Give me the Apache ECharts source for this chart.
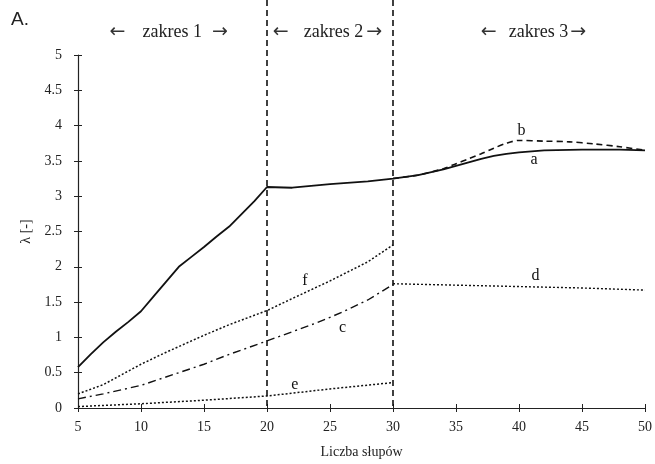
<!DOCTYPE html>
<html>
<head>
<meta charset="utf-8">
<script src="https://cdn.jsdelivr.net/npm/echarts@6/dist/echarts.min.js"></script>
<style>
html,body{margin:0;padding:0;background:#fff;}
#main{width:655px;height:464px;}
</style>
</head>
<body>
<div id="main"></div>
<script>
// ---- data ----
var xTicks = [5, 10, 15, 20, 25, 30, 35, 40, 45, 50];
var yTicks = [0, 0.5, 1, 1.5, 2, 2.5, 3, 3.5, 4, 4.5, 5];

var aX = [5, 6, 7, 8, 9, 10, 11, 12, 13, 14, 15, 16, 17, 18, 19, 20, 22, 25, 28, 30, 32, 34, 35, 36, 37, 38, 39, 40, 42, 45, 48, 50];
var aY = [0.58, 0.76, 0.93, 1.08, 1.22, 1.37, 1.58, 1.79, 2.0, 2.14, 2.28, 2.43, 2.57, 2.75, 2.93, 3.13, 3.12, 3.17, 3.21, 3.25, 3.3, 3.38, 3.43, 3.48, 3.53, 3.57, 3.6, 3.62, 3.65, 3.66, 3.66, 3.65];

var bX = [30, 32, 34, 35, 36, 37, 38, 39, 40, 42, 44, 46, 48, 50];
var bY = [3.25, 3.3, 3.39, 3.46, 3.53, 3.6, 3.68, 3.75, 3.79, 3.78, 3.77, 3.74, 3.7, 3.65];

var cX = [5, 7, 10, 13, 15, 17, 20, 22, 24, 26, 28, 30];
var cY = [0.13, 0.2, 0.32, 0.5, 0.62, 0.76, 0.95, 1.08, 1.21, 1.36, 1.53, 1.75];

var dX = [30, 35, 40, 45, 50];
var dY = [1.76, 1.74, 1.72, 1.7, 1.67];

var eX = [5, 10, 15, 20, 25, 30];
var eY = [0.02, 0.06, 0.11, 0.17, 0.27, 0.36];

var fX = [5, 7, 10, 12, 15, 17, 20, 22, 25, 28, 30];
var fY = [0.2, 0.33, 0.62, 0.79, 1.03, 1.18, 1.38, 1.55, 1.8, 2.07, 2.31];

var curveNames = ['a', 'b', 'c', 'd', 'e', 'f'];
var labelX = [41.2, 40.2, 26.0, 41.3, 22.2, 23.0];
var labelY = [3.51, 3.93, 1.14, 1.87, 0.33, 1.80];

var rangeBounds = [20, 30];
var rangeWords = ['zakres 1', 'zakres 2', 'zakres 3'];
var rangeCentersX = [12.2, 24.8, 41.15];

var xName = 'Liczba słupów';
var yName = 'λ [-]';
var panelTag = 'A.';

// ---- chart ----
var SERIF = '"Liberation Serif", "DejaVu Serif", serif';
function zip(xs, ys) { return xs.map(function (x, i) { return [x, ys[i]]; }); }

var chart = echarts.init(document.getElementById('main'), null, {renderer: 'canvas'});

function curve(name, xs, ys, lineType, width, idx, smooth) {
  return {
    name: name,
    type: 'line',
    data: zip(xs, ys),
    showSymbol: false,
    symbol: 'none',
    smooth: smooth,
    lineStyle: {color: '#111', width: width, type: lineType},
    z: 3,
    markPoint: {
      symbol: 'circle',
      symbolSize: 0,
      silent: true,
      label: {show: true, position: 'inside', color: '#111', fontFamily: SERIF, fontSize: 16, formatter: name},
      data: [{coord: [labelX[idx], labelY[idx]], value: name}]
    }
  };
}

var axisCommon = {
  type: 'value',
  splitLine: {show: false},
  axisLine: {show: true, lineStyle: {color: '#222', width: 1.2}},
};

var option = {
  animation: false,
  backgroundColor: '#fff',
  grid: {left: 78, right: 10, top: 55, bottom: 50, containLabel: false},
  xAxis: [
    Object.assign({}, axisCommon, {
      min: 5, max: 50, interval: 5,
      axisTick: {show: true, length: 4, lineStyle: {color: '#222'}},
      axisLabel: {color: '#222', fontFamily: SERIF, fontSize: 14, margin: 12},
      name: xName, nameLocation: 'middle', nameGap: 37,
      nameTextStyle: {color: '#222', fontFamily: SERIF, fontSize: 14}
    }),
    Object.assign({}, axisCommon, {
      min: 5, max: 50, interval: 5, position: 'bottom',
      axisLine: {show: false},
      axisTick: {show: true, inside: true, length: 4, lineStyle: {color: '#222'}},
      axisLabel: {show: false}
    })
  ],
  yAxis: [
    Object.assign({}, axisCommon, {
      min: 0, max: 5, interval: 0.5,
      axisTick: {show: true, length: 4, lineStyle: {color: '#222'}},
      axisLabel: {color: '#222', fontFamily: SERIF, fontSize: 14, margin: 16},
      name: yName, nameLocation: 'middle', nameGap: 38, nameRotate: 90,
      nameTextStyle: {color: '#222', fontFamily: SERIF, fontSize: 14}
    }),
    Object.assign({}, axisCommon, {
      min: 0, max: 5, interval: 0.5, position: 'left',
      axisLine: {show: false},
      axisTick: {show: true, inside: true, length: 4, lineStyle: {color: '#222'}},
      axisLabel: {show: false}
    })
  ],
  series: [
    curve('a', aX, aY, 'solid', 1.8, 0, false),
    curve('b', bX, bY, [6, 4], 1.6, 1, 0.3),
    curve('c', cX, cY, [8, 4, 2, 4], 1.4, 2, false),
    curve('d', dX, dY, [2, 2], 1.4, 3, false),
    curve('e', eX, eY, [2, 2], 1.5, 4, false),
    curve('f', fX, fY, [2, 2], 1.5, 5, false)
  ]
};
chart.setOption(option);

// vertical range boundaries and range captions, positioned through the axis scales
var graphics = [];
var baseY = chart.convertToPixel({xAxisIndex: 0, yAxisIndex: 0}, [5, 0])[1];
rangeBounds.forEach(function (xv) {
  var px = chart.convertToPixel({xAxisIndex: 0, yAxisIndex: 0}, [xv, 0])[0];
  graphics.push({
    type: 'line', silent: true, z: 10,
    shape: {x1: px, y1: 0, x2: px, y2: baseY},
    style: {stroke: '#111', lineWidth: 1.6, lineDash: [6, 4]}
  });
});
var wordPads = [[0, 10, 0, 17], [0, 3, 0, 15], [0, 2, 0, 12]];
rangeWords.forEach(function (w, i) {
  var px = chart.convertToPixel({xAxisIndex: 0, yAxisIndex: 0}, [rangeCentersX[i], 0])[0];
  graphics.push({
    type: 'text', silent: true, z: 10,
    x: px, y: 32,
    style: {
      text: '{arr|\u2190}{w|' + w + '}{arr|\u2192}',
      textAlign: 'center', textVerticalAlign: 'middle',
      rich: {
        arr: {fill: '#333', fontFamily: '"DejaVu Sans", sans-serif', fontSize: 19},
        w: {fill: '#222', fontFamily: SERIF, fontSize: 18, padding: wordPads[i]}
      },
      fill: '#222', font: '18px ' + SERIF
    }
  });
});
graphics.push({
  type: 'text', silent: true, z: 10, x: 11, y: 20,
  style: {text: panelTag, fill: '#222', font: '19px "Liberation Sans", Arial, sans-serif', textAlign: 'left', textVerticalAlign: 'middle'}
});
chart.setOption({graphic: graphics});
</script>
</body>
</html>
